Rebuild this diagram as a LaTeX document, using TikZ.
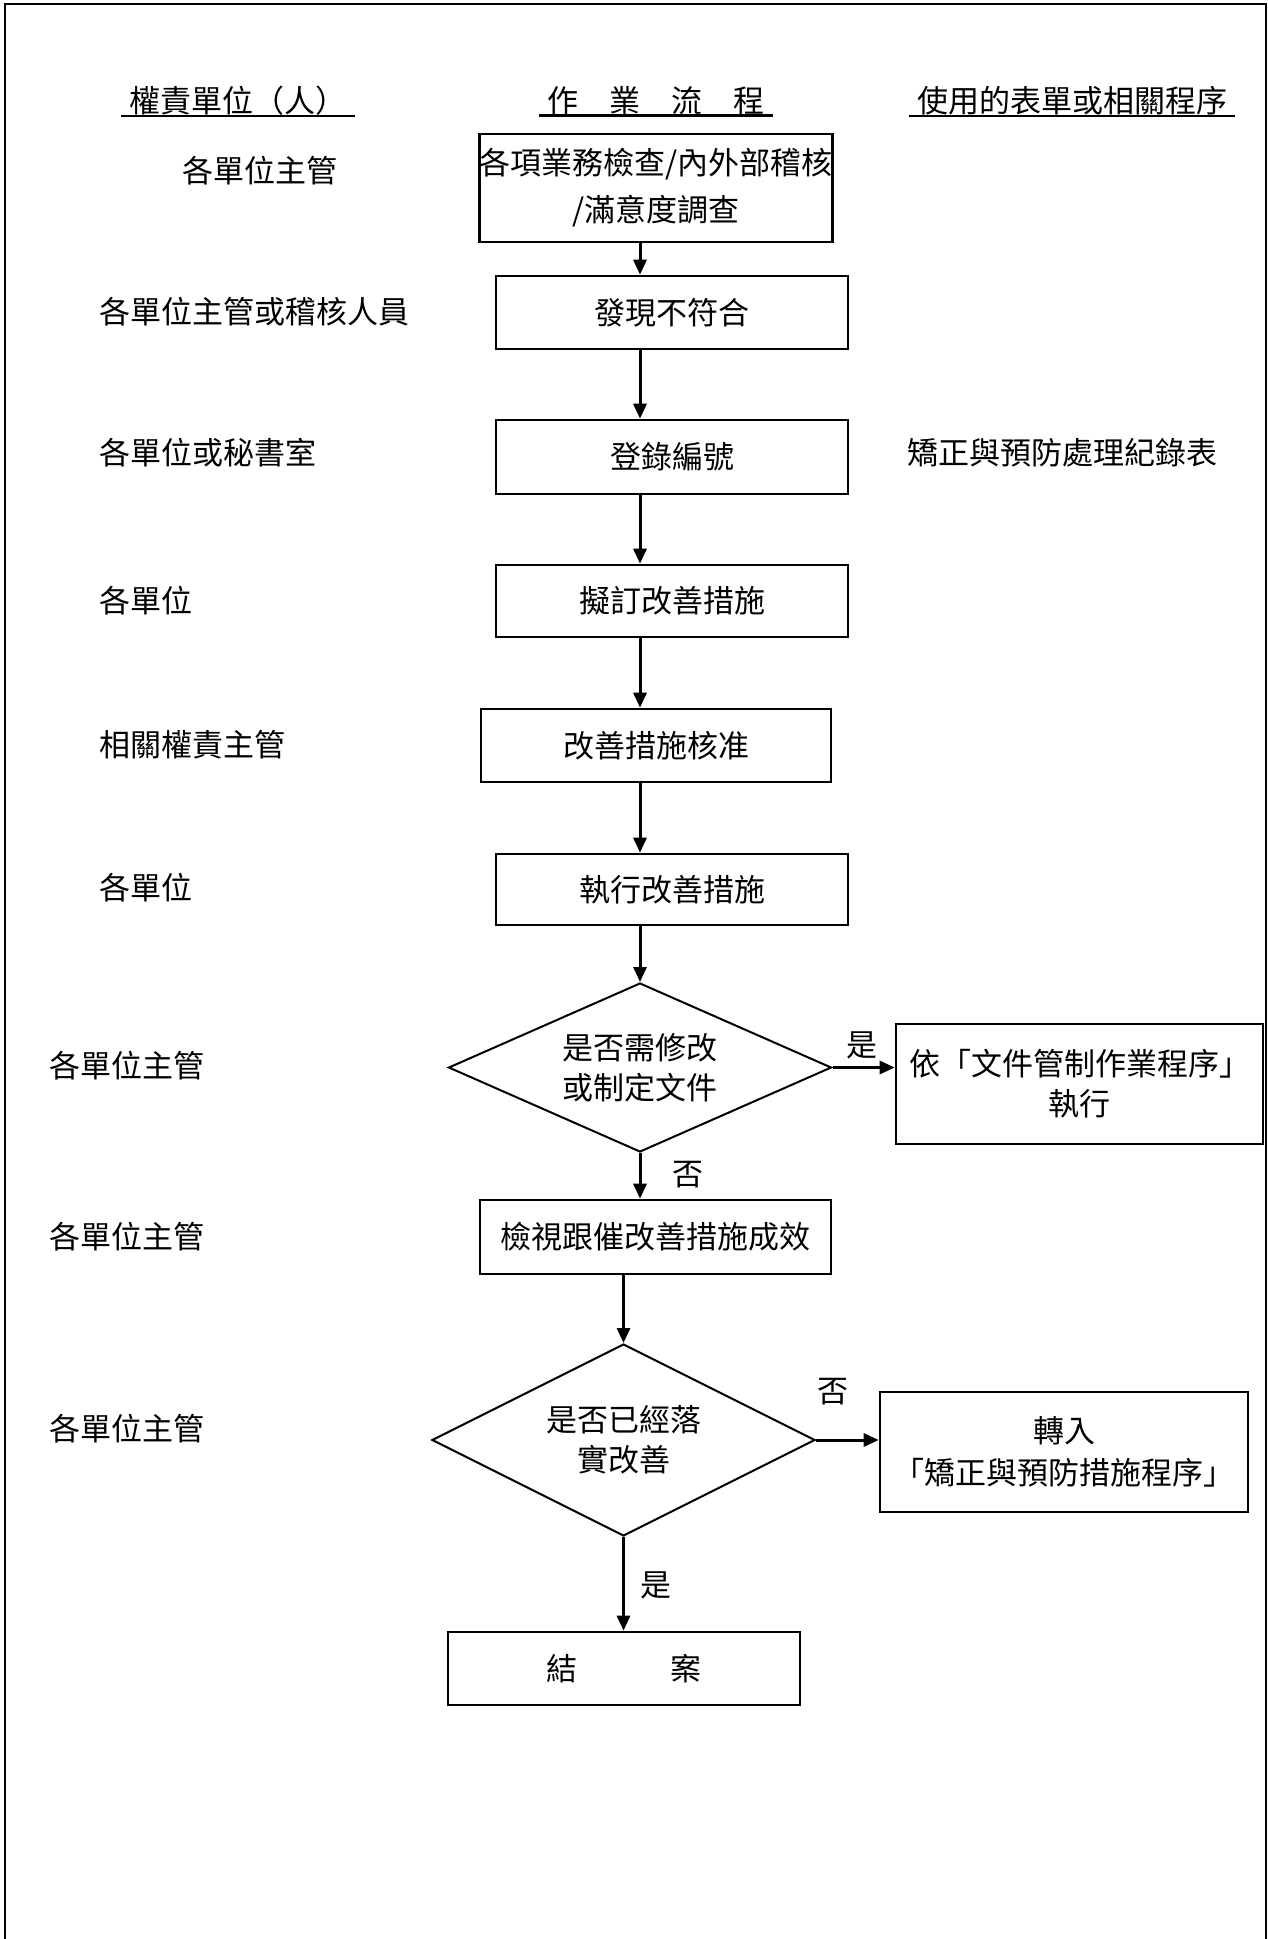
\documentclass[tikz,border=0pt]{standalone}
\usepackage{fontspec}
\setmainfont{Noto Sans CJK TC}
\usetikzlibrary{arrows.meta,shapes.geometric,calc}
\begin{document}
\begin{tikzpicture}[x=0.5pt,y=-0.5pt,
  every node/.style={font=\fontsize{15.5pt}{20pt}\selectfont, inner sep=0pt},
  box/.style={draw, line width=1.3pt, align=center},
  dia/.style={draw, diamond, line width=1pt, align=center},
  arr/.style={line width=1.5pt, -{Triangle[length=7.5pt,width=6.5pt]}},
  lbl/.style={anchor=west},
  head/.style={inner xsep=4pt}]
\useasboundingbox (0,0) rectangle (1268,1939);
% page frame
\draw[line width=1.25pt] (5,1939) -- (5,4) -- (1266,4) -- (1266,1939);

% headers
\node[head] (h1) at (238,101) {權責單位（人）};
\node[head] (h2) at (656,101) {作　業　流　程};
\node[head] (h3) at (1072,101) {使用的表單或相關程序};
\foreach \h in {h1,h2,h3} \draw[line width=1.3pt] (\h.south west) -- (\h.south east);

% flow
\node[box, minimum width=176pt, minimum height=54pt, font=\fontsize{15.5pt}{23.5pt}\selectfont] (B1) at (656,188) {各項業務檢查/內外部稽核\\/滿意度調查};
\node[box, minimum width=176pt, minimum height=36.5pt] (B2) at (672,312.5) {發現不符合};
\node[box, minimum width=176pt, minimum height=37pt] (B3) at (672,457) {登錄編號};
\node[box, minimum width=176pt, minimum height=36pt] (B4) at (672,601) {擬訂改善措施};
\node[box, minimum width=175pt, minimum height=36.5pt] (B5) at (656,745.5) {改善措施核准};
\node[box, minimum width=176pt, minimum height=35.5pt] (B6) at (672,889.5) {執行改善措施};
\node[dia, shape aspect=2.27, minimum width=191.5pt, minimum height=84.5pt] (D1) at (640,1067.5) {是否需修改\\或制定文件};
\node[box, minimum width=183.5pt, minimum height=60pt] (R1) at (1079.5,1084) {依「文件管制作業程序」\\執行};
\node[box, minimum width=175.5pt, minimum height=37pt] (B7) at (655.5,1237) {檢視跟催改善措施成效};
\node[dia, shape aspect=2, minimum width=191.5pt, minimum height=96pt] (D2) at (623.5,1440) {是否已經落\\實改善};
\node[box, minimum width=184pt, minimum height=60pt, font=\fontsize{15.5pt}{21pt}\selectfont] (R2) at (1064,1452) {轉入\\「矯正與預防措施程序」};
\node[box, minimum width=176pt, minimum height=36.5pt] (E) at (624,1668.5) {結　　　案};

% connectors
\draw[arr] (B1.south -| D1.north) -- (B2.north -| D1.north);
\draw[arr] (B2.south -| D1.north) -- (B3.north -| D1.north);
\draw[arr] (B3.south -| D1.north) -- (B4.north -| D1.north);
\draw[arr] (B4.south -| D1.north) -- (B5.north -| D1.north);
\draw[arr] (B5.south -| D1.north) -- (B6.north -| D1.north);
\draw[arr] (B6.south -| D1.north) -- (D1.north);
\draw[arr] (D1.east) -- (D1.east -| R1.west);
\draw[arr] (D1.south) -- (B7.north -| D1.south);
\draw[arr] (B7.south -| D2.north) -- (D2.north);
\draw[arr] (D2.east) -- (D2.east -| R2.west);
\draw[arr] (D2.south) -- (E.north -| D2.south);

% branch labels
\node (y1) at (862,1045) {是};
\node (n1) at (688,1175) {否};
\node (n2) at (833,1392) {否};
\node (y2) at (656,1585) {是};

% responsibility column
\node[lbl] (L1) at (182,171) {各單位主管};
\node[lbl] (L2) at (99,312) {各單位主管或稽核人員};
\node[lbl] (L3) at (99,453) {各單位或秘書室};
\node[lbl] (L4) at (99,601) {各單位};
\node[lbl] (L5) at (99,745) {相關權責主管};
\node[lbl] (L6) at (99,888) {各單位};
\node[lbl] (L7) at (49,1066) {各單位主管};
\node[lbl] (L8) at (49,1237) {各單位主管};
\node[lbl] (L9) at (49,1429) {各單位主管};

% forms column
\node[lbl] (F1) at (907,453) {矯正與預防處理紀錄表};
\end{tikzpicture}
\end{document}
